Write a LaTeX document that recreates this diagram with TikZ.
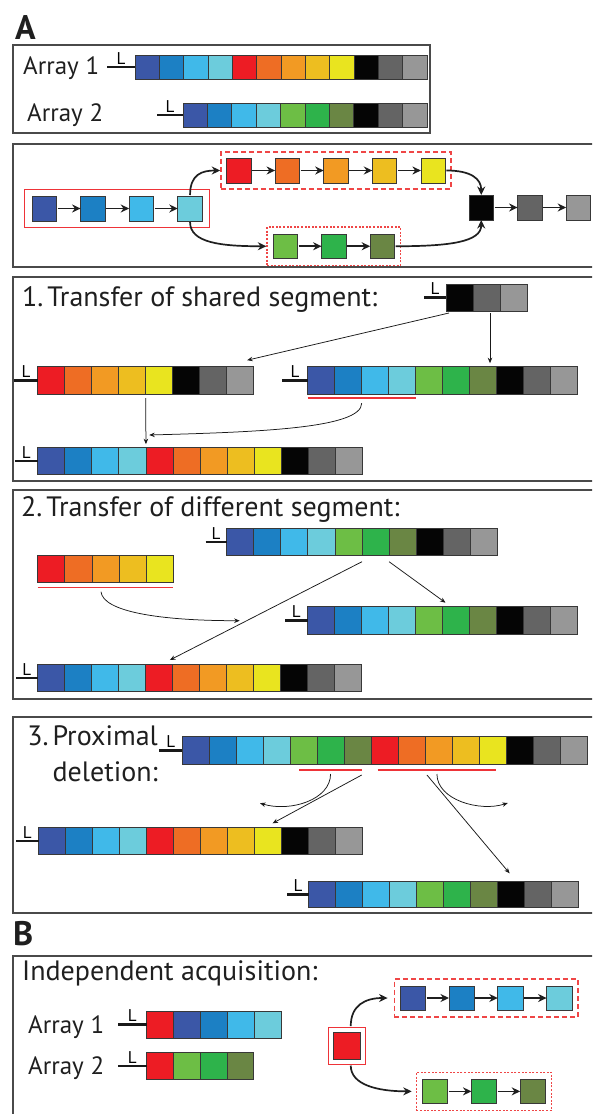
\documentclass[tikz,border=0pt]{standalone}
\usepackage{fontspec}
\setmainfont{PT Sans}
\usetikzlibrary{arrows.meta,calc,fit}
\definecolor{cDB}{HTML}{3B57A7}
\definecolor{cB}{HTML}{1C80C4}
\definecolor{cLB}{HTML}{40B9E9}
\definecolor{cCy}{HTML}{6CCCDC}
\definecolor{cR}{HTML}{ED1C24}
\definecolor{cOa}{HTML}{EE6D24}
\definecolor{cOb}{HTML}{F29A23}
\definecolor{cGo}{HTML}{EDBE20}
\definecolor{cY}{HTML}{E9E41F}
\definecolor{cK}{HTML}{050505}
\definecolor{cDG}{HTML}{646464}
\definecolor{cLG}{HTML}{979797}
\definecolor{cGa}{HTML}{6DBE45}
\definecolor{cGb}{HTML}{2EB34B}
\definecolor{cGc}{HTML}{6A8644}
\definecolor{cRL}{HTML}{EE3338}
\definecolor{cRD}{HTML}{EF4646}
\definecolor{cBox}{HTML}{4A4A4A}
% name, x, y, w, h, step, colours
\newcommand\sqrow[7]{%
  \foreach \cc [count=\ii] in {#7} {%
    \node[sq, fill=\cc, minimum width=#4pt, minimum height=#5pt, anchor=north west]
      (#1-\ii) at ({#2+(\ii-1)*#6}, #3) {};
  }}
% name of row, x start of leader
\newcommand\lead[2]{%
  \coordinate (#1-ls) at (#2,0 |- #1-1.west);
  \draw[leadline] (#1-ls) -- (#1-1.west);
  \node[Lmark] (#1-L) at ($(#1-ls)!0.5!(#1-1.west)$) {L};
}
\begin{document}
\begin{tikzpicture}[x=1pt,y=-1pt,
  sq/.style={draw=black!78, line width=0.8pt, inner sep=0pt, outer sep=0pt},
  leadline/.style={line width=2.6pt, black!90},
  Lmark/.style={anchor=south, inner sep=0pt, yshift=2.6pt, font=\fontsize{17}{17}\selectfont},
  panel/.style={draw=cBox, line width=1.1pt},
  flow/.style={line width=1.7pt, black!88, -{Stealth[length=8.5pt,width=8pt]}, shorten <=1pt},
  tarr/.style={line width=0.75pt, black!90, -{Stealth[length=5.5pt,width=4.5pt]}},
  redline/.style={cRL, line width=1.5pt},
  redsolid/.style={draw=cRL, line width=0.9pt, inner sep=0pt},
  reddash/.style={draw=cRD, line width=1.25pt, dash pattern=on 5pt off 3pt},
  reddot/.style={draw=cRD, line width=1.3pt, dash pattern=on 2pt off 1.6pt},
  title/.style={anchor=base west, inner sep=0pt, font=\fontsize{28}{30}\selectfont, text=black!88},
  arrlbl/.style={anchor=base west, inner sep=0pt, font=\fontsize{25}{28}\selectfont, text=black!88},
  big/.style={anchor=base west, inner sep=0pt, font=\fontsize{34}{34}\selectfont\bfseries, text=black!88}
]
\path[use as bounding box] (0,0) rectangle (592,1114);
\clip (0,0) rectangle (592,1114);
\fill[white] (0,0) rectangle (592,1114);

% ---------------- panel A
\node[big] (labA) at (15,39) {A};
\draw[panel] (13,45) rectangle (430,133);
\draw[panel] (13,144) rectangle (620,267);
\draw[panel] (13,277) rectangle (620,481);
\draw[panel] (13,490) rectangle (620,699);
\draw[panel] (13,717) rectangle (620,913);
\node[big] (labB) at (13,945) {B};
\draw[panel] (13,956) rectangle (620,1130);

\node[arrlbl] (ta1) at (23,74) {Array 1};
\node[arrlbl] (ta2) at (27,121.5) {Array 2};
\sqrow{Aa}{135}{55}{24.33}{24}{24.33}{cDB,cB,cLB,cCy,cR,cOa,cOb,cGo,cY,cK,cDG,cLG}
\sqrow{Ab}{183}{103}{24.4}{24}{24.4}{cDB,cB,cLB,cCy,cGa,cGb,cGc,cK,cDG,cLG}
\lead{Aa}{107}
\lead{Ab}{157}

% flow
\sqrow{fb}{32}{196}{24.5}{25}{48.6}{cDB,cB,cLB,cCy}
\sqrow{ft}{226.5}{158}{24.5}{25}{48.6}{cR,cOa,cOb,cGo,cY}
\sqrow{fg}{273}{234}{24.5}{24.5}{48.6}{cGa,cGb,cGc}
\sqrow{fk}{469}{195}{24.5}{25}{48.6}{cK,cDG,cLG}
\foreach \a/\b in {1/2,2/3,3/4} \draw[flow] (fb-\a) -- (fb-\b);
\foreach \a/\b in {1/2,2/3,3/4,4/5} \draw[flow] (ft-\a) -- (ft-\b);
\foreach \a/\b in {1/2,2/3} \draw[flow] (fg-\a) -- (fg-\b);
\foreach \a/\b in {1/2,2/3} \draw[flow] (fk-\a) -- (fk-\b);
\node[redsolid, fit=(fb-1)(fb-4), inner xsep=7.5pt, inner ysep=6.5pt] (fbbox) {};
\node[reddash, fit=(ft-1)(ft-5), inner xsep=5.6pt, inner ysep=6pt] (ftbox) {};
\node[reddot, fit=(fg-1)(fg-3), inner xsep=6pt, inner ysep=7pt] (fgbox) {};
\draw[flow] (fb-4.north) .. controls +(0,-22) and +(-18,0) .. (ftbox.west);
\draw[flow] (fb-4.south) .. controls +(0,22) and +(-45,0) .. (fgbox.west);
\draw[flow] (ft-5.east) .. controls +(26,0) and +(0,-16) .. (fk-1.north);
\draw[flow] (fg-3.east) .. controls +(55,0) and +(0,22) .. (fk-1.south);

% ---------------- panel 1
\node[title] (t1) at (22,306.7) {1.\hspace{0.14em}Transfer of shared segment:};
\sqrow{sa}{446}{284}{27}{27}{27}{cK,cDG,cLG}
\lead{sa}{424}
\sqrow{pa}{37.7}{366.7}{27}{27.5}{27}{cR,cOa,cOb,cGo,cY,cK,cDG,cLG}
\lead{pa}{14.3}
\sqrow{pb}{307.7}{366.7}{27}{27.5}{27}{cDB,cB,cLB,cCy,cGa,cGb,cGc,cK,cDG,cLG}
\lead{pb}{282.4}
\sqrow{pc}{37.7}{447.7}{27.06}{26.5}{27.06}{cDB,cB,cLB,cCy,cR,cOa,cOb,cGo,cY,cK,cDG,cLG}
\lead{pc}{15}
\draw[redline] ($(pb-1.south west)+(0,4)$) coordinate (ua) -- ($(pb-4.south east)+(0,4)$) coordinate (ub);
\draw[tarr] ($(sa-1.south west)+(3,2)$) -- ($(pa-8.north)+(7,-6.5)$);
\draw[tarr] ($(sa-2.south)+(3.5,2)$) -- ($(pb-7.north)+(6.8,-3.5)$);
\draw[tarr] ($(pa-4.south east)+(0,4)$) -- ($(pc-4.north east)+(0,-3.5)$);
\draw[tarr] ($(ua)!0.5!(ub)+(0,5)$) .. controls +(0,25) and +(111,-3) .. ($(pc-5.north west)+(3.3,-12.7)$);

% ---------------- panel 2
\node[title] (t2) at (21,516.7) {2.\hspace{0.14em}Transfer of different segment:};
\sqrow{qa}{226.5}{528.3}{27.1}{27.4}{27.1}{cDB,cB,cLB,cCy,cGa,cGb,cGc,cK,cDG,cLG}
\lead{qa}{205.7}
\sqrow{qb}{37.7}{555.7}{27.1}{26.6}{27.1}{cR,cOa,cOb,cGo,cY}
\draw[redline] ($(qb-1.south west)+(0,5.4)$) coordinate (va) -- ($(qb-5.south east)+(0,5.4)$) coordinate (vb);
\sqrow{qc}{307.7}{606.7}{27}{27.6}{27}{cDB,cB,cLB,cCy,cGa,cGb,cGc,cK,cDG,cLG}
\lead{qc}{285}
\sqrow{qd}{37.7}{664.3}{27}{27.4}{27}{cDB,cB,cLB,cCy,cR,cOa,cOb,cGo,cY,cK,cDG,cLG}
\lead{qd}{16}
\draw[tarr] ($(va)+(63.3,4)$) .. controls +(2,20) and +(-80,0) .. ($(qc-1.west)+(-68,0.2)$);
\draw[tarr] ($(qa-5.south east)+(0,6)$) -- ($(qd-5.north east)+(-2.8,-4.3)$);
\draw[tarr] ($(qa-6.south east)+(0,6)$) -- ($(qc-6.north west)+(2.8,-4)$);

% ---------------- panel 3
\node[title, anchor=base east] (t3a) at (158,745) {3.\hspace{0.14em}Proximal};
\node[title, anchor=base east] (t3b) at (158,781) {deletion:};
\sqrow{ra}{182.3}{736.7}{27.03}{27.3}{27.03}{cDB,cB,cLB,cCy,cGa,cGb,cGc,cR,cOa,cOb,cGo,cY,cK,cDG,cLG}
\lead{ra}{159.3}
\draw[redline] ($(ra-5.south west)+(9,6)$) coordinate (wa) -- ($(ra-7.south east)+(-9.8,6)$) coordinate (wb);
\draw[redline] ($(ra-8.south west)+(6,6)$) coordinate (wc) -- ($(ra-12.south east)+(-10.3,6)$) coordinate (wd);
\sqrow{rb}{38.5}{827.7}{27}{26.6}{27}{cDB,cB,cLB,cCy,cR,cOa,cOb,cGo,cY,cK,cDG,cLG}
\lead{rb}{16}
\sqrow{rc}{308.8}{881}{27}{26.7}{27}{cDB,cB,cLB,cCy,cGa,cGb,cGc,cK,cDG,cLG}
\lead{rc}{287}
\draw[tarr] ($(wa)!0.5!(wb)+(0,4)$) .. controls +(0,26) and +(30,9) .. ($(rb-9.north)+(-8,-24.5)$);
\draw[tarr] ($(wc)!0.5!(wd)+(0,4)$) .. controls +(0,26) and +(-28,9) .. ($(rc-8.north)+(-3.5,-78)$);
\draw[tarr] ($(wb)+(0,5)$) -- ($(rb-9.north)+(4.6,-4.4)$);
\draw[tarr] ($(ra-10.south west)+(1.4,11)$) -- ($(rc-8.north)+(-1.7,-7.7)$);

% ---------------- panel B
\node[title] (tb) at (22,980.7) {Independent acquisition:};
\node[arrlbl] (tb1) at (28,1033.3) {Array 1};
\node[arrlbl] (tb2) at (28,1074) {Array 2};
\sqrow{ba}{146.5}{1011}{27}{27.3}{27}{cR,cDB,cB,cLB,cCy}
\lead{ba}{118.2}
\sqrow{bb}{146.5}{1052.7}{26.8}{26.6}{26.8}{cR,cGa,cGb,cGc}
\lead{bb}{118.2}
\node[sq, fill=cR, minimum width=27.5pt, minimum height=27pt, anchor=north west] (bred) at (333,1032.3) {};
\node[redsolid, fit=(bred), inner sep=4.8pt] (bredbox) {};
\sqrow{bt}{400.2}{986}{25.3}{24}{48.8}{cDB,cB,cLB,cCy}
\sqrow{bg}{422.8}{1079}{25}{24.7}{48.7}{cGa,cGb,cGc}
\foreach \a/\b in {1/2,2/3,3/4} \draw[flow] (bt-\a) -- (bt-\b);
\foreach \a/\b in {1/2,2/3} \draw[flow] (bg-\a) -- (bg-\b);
\node[reddash, fit=(bt-1)(bt-4), inner xsep=6pt, inner ysep=7pt] (btbox) {};
\node[reddot, fit=(bg-1)(bg-3), inner xsep=6.4pt, inner ysep=6.8pt] (bgbox) {};
\draw[flow] ($(bredbox.north)+(4,0)$) .. controls +(0,-22) and +(-22,0) .. ($(btbox.west)+(-6,0)$);
\draw[flow] ($(bredbox.south)+(4,0)$) .. controls +(0,20) and +(-35,0) .. ($(bgbox.west)+(-4,0)$);
\end{tikzpicture}
\end{document}
